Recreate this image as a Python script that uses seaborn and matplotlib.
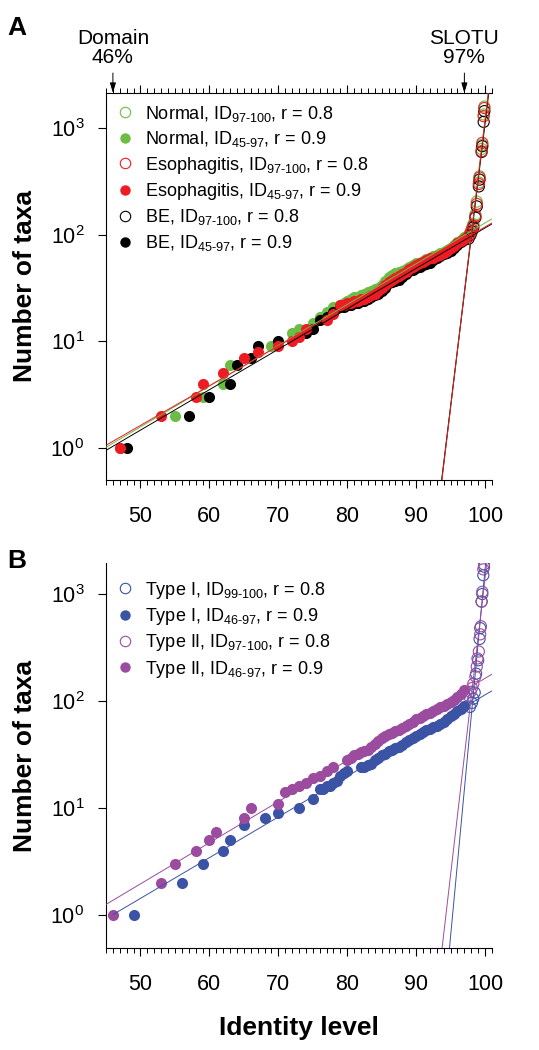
import numpy as np
import pandas as pd
import matplotlib
matplotlib.use("Agg")
import matplotlib.pyplot as plt
import seaborn as sns
from matplotlib.ticker import MultipleLocator, LogLocator, NullLocator, LogFormatterSciNotation
from matplotlib.lines import Line2D

# ---------------- data ----------------
# Panel A
normal_fill_x = [47, 55, 59, 62, 63, 69, 72, 73, 75, 76, 77, 78, 79,
                 79.5, 80, 80.5, 81, 81.5, 82, 82.5, 83, 83.5, 84, 84.5, 85, 85.5, 86, 86.5, 87, 87.5, 88,
                 88.5, 89, 89.5, 90, 90.5, 91, 91.5, 92, 92.5, 93, 93.5, 94, 94.5, 95, 95.5, 96, 96.5, 97]
normal_fill_y = [1, 2, 3, 4, 6, 9, 12, 13, 15, 17, 19, 21, 22,
                 23, 24, 25, 26, 26, 27, 28, 29, 30, 31, 32, 34, 37, 40, 42, 44, 45, 46,
                 48, 50, 52, 54, 55, 57, 59, 61, 63, 65, 67, 69, 72, 76, 80, 85, 90, 95]
normal_open_x = [97.6, 97.9, 98.1, 98.3, 98.6, 98.8, 99.1, 99.2, 99.5, 99.6, 99.8, 99.9]
normal_open_y = [98, 107, 116, 126, 155, 205, 310, 355, 640, 700, 1350, 1600]

esoph_fill_x = [47, 53, 58, 59, 62, 65, 67, 70, 72, 73, 74, 77, 78, 79,
                79.5, 80, 80.5, 81, 81.5, 82, 82.5, 83, 83.5, 84, 84.5, 85, 85.5, 86, 86.5, 87, 87.5, 88,
                88.5, 89, 89.5, 90, 90.5, 91, 91.5, 92, 92.5, 93, 93.5, 94, 94.5, 95, 95.5, 96, 96.5, 97]
esoph_fill_y = [1, 2, 3, 4, 5, 7, 8, 9, 10, 11, 13, 16, 18, 22,
                22, 23, 23, 24, 24, 25, 25, 26, 27, 28, 30, 32, 34, 36, 38, 39, 41, 43,
                45, 48, 50, 52, 54, 56, 58, 60, 61, 63, 65, 67, 71, 75, 79, 83, 87, 92]
esoph_open_x = [97.6, 97.9, 98.1, 98.3, 98.6, 98.8, 99.1, 99.2, 99.5, 99.6, 99.8, 99.9]
esoph_open_y = [96, 104, 112, 122, 150, 195, 300, 345, 610, 730, 1300, 1550]

be_fill_x = [48, 57, 60, 63, 64, 66, 67, 70, 74, 75, 76, 77, 78, 79,
             79.5, 80, 80.5, 81, 81.5, 82, 82.5, 83, 83.5, 84, 84.5, 85, 85.5, 86, 86.5, 87, 87.5, 88,
             88.5, 89, 89.5, 90, 90.5, 91, 91.5, 92, 92.5, 93, 93.5, 94, 94.5, 95, 95.5, 96, 96.5, 97]
be_fill_y = [1, 2, 3, 4, 6, 7, 9, 10, 12, 13, 16, 17, 19, 21,
             21, 22, 22, 23, 23, 24, 24, 25, 26, 27, 28, 30, 32, 35, 36, 37, 38, 40,
             43, 46, 47, 49, 50, 52, 53, 55, 58, 61, 63, 66, 68, 71, 75, 80, 85, 90]
be_open_x = [97.6, 97.9, 98.1, 98.3, 98.6, 98.8, 99.1, 99.2, 99.5, 99.6, 99.8, 99.9]
be_open_y = [92, 100, 108, 118, 145, 185, 285, 330, 600, 680, 1150, 1450]

# Panel B
type1_fill_x = [49, 56, 59, 62, 63, 65, 68, 70, 73, 75, 76, 76.5, 77, 77.5, 78, 78.5, 79, 79.5, 80,
                82, 82.5, 83, 83.5, 84, 84.5, 85, 85.5, 86, 86.5, 87, 87.5, 88, 88.5, 89, 89.5,
                90, 90.5, 91, 91.5, 92, 92.5, 93, 93.5, 94, 94.5, 95, 95.5, 96, 96.5, 97]
type1_fill_y = [1, 2, 3, 4, 5, 7, 8, 9, 10, 12, 15, 15, 16, 16, 17, 18, 20, 21, 22,
                24, 24, 25, 26, 28, 29, 31, 32, 34, 35, 36, 37, 39, 41, 43, 45,
                47, 49, 51, 53, 55, 57, 59, 61, 64, 68, 72, 76, 80, 84, 89]
type1_open_x = [97.8, 98.1, 98.3, 98.5, 98.7, 99.0, 99.2, 99.3, 99.5, 99.6, 99.75, 99.85]
type1_open_y = [88, 96, 105, 120, 180, 240, 380, 480, 850, 1000, 1500, 1800]

type2_fill_x = [46, 53, 55, 58, 60, 61, 65, 66, 70, 71, 72, 73, 74, 75, 76, 77, 78,
                80, 80.5, 81, 81.5, 82, 82.5, 83, 83.5, 84, 84.5, 85, 85.5, 86, 86.5, 87, 87.5, 88, 88.5,
                89, 89.5, 90, 90.5, 91, 91.5, 92, 92.5, 93, 93.5, 94, 94.5, 95, 95.5, 96, 96.5, 97]
type2_fill_y = [1, 2, 3, 4, 5, 6, 8, 10, 11, 14, 15, 16, 17, 19, 20, 22, 24,
                28, 29, 31, 32, 33, 34, 35, 37, 40, 42, 45, 47, 49, 50, 52, 54, 56, 58,
                61, 64, 68, 70, 73, 75, 78, 81, 85, 87, 90, 94, 98, 103, 110, 117, 126]
type2_open_x = [97.6, 97.9, 98.1, 98.3, 98.6, 98.8, 98.9, 99.1, 99.3, 99.4, 99.5, 99.6, 99.75, 99.85]
type2_open_y = [112, 122, 132, 145, 170, 210, 250, 290, 420, 500, 850, 1050, 1700, 1900]

labels_A = [r"Normal, ID$_{\text{97-100}}$, r = 0.8", r"Normal, ID$_{\text{45-97}}$, r = 0.9",
            r"Esophagitis, ID$_{\text{97-100}}$, r = 0.8", r"Esophagitis, ID$_{\text{45-97}}$, r = 0.9",
            r"BE, ID$_{\text{97-100}}$, r = 0.8", r"BE, ID$_{\text{45-97}}$, r = 0.9"]
labels_B = [r"Type I, ID$_{\text{99-100}}$, r = 0.8", r"Type I, ID$_{\text{46-97}}$, r = 0.9",
            r"Type II, ID$_{\text{97-100}}$, r = 0.8", r"Type II, ID$_{\text{46-97}}$, r = 0.9"]
x_ticks = [50, 60, 70, 80, 90, 100]

GREEN = "#6cbd45"
RED = "#ed1c24"
BLACK = "#000000"
BLUE = "#3a53a4"
PURPLE = "#9b4c9f"

# ---------------- style ----------------
sns.set_theme(style="ticks")
plt.rcParams["font.family"] = ["Liberation Sans", "DejaVu Sans"]
plt.rcParams["mathtext.fontset"] = "custom"
plt.rcParams["mathtext.rm"] = "Liberation Sans"
plt.rcParams["mathtext.it"] = "Liberation Sans:italic"
plt.rcParams["mathtext.bf"] = "Liberation Sans:bold"
plt.rcParams["axes.linewidth"] = 0.8
for k in ("text.color", "axes.labelcolor", "xtick.color", "ytick.color", "axes.edgecolor"):
    plt.rcParams[k] = "black"

fig = plt.figure(figsize=(5.39, 10.5), dpi=100)
axA = fig.add_axes([0.1967, 0.5429, 0.716, 0.3686])
axB = fig.add_axes([0.1967, 0.0971, 0.716, 0.3667])

MS = 64


def draw_group(ax, fx, fy, ox, oy, color, fill_range, open_range):
    dff = pd.DataFrame({"x": fx, "y": fy})
    dfo = pd.DataFrame({"x": ox, "y": oy})
    sns.scatterplot(data=dff, x="x", y="y", ax=ax, color=color, s=MS, linewidth=0, zorder=3)
    sns.scatterplot(data=dfo, x="x", y="y", ax=ax, facecolors="none", edgecolors=color,
                    s=MS, linewidth=0.8, zorder=3)
    # log-linear fits
    pf = np.polyfit(dff["x"], np.log10(dff["y"]), 1)
    gx = np.linspace(fill_range[0], fill_range[1], 50)
    sns.lineplot(x=gx, y=10 ** np.polyval(pf, gx), ax=ax, color=color, lw=0.7, zorder=4)
    po = np.polyfit(dfo["x"], np.log10(dfo["y"]), 1)
    gx2 = np.linspace(open_range[0], open_range[1], 50)
    sns.lineplot(x=gx2, y=10 ** np.polyval(po, gx2), ax=ax, color=color, lw=0.7, zorder=4)


draw_group(axA, normal_fill_x, normal_fill_y, normal_open_x, normal_open_y, GREEN, (45, 101), (90, 101))
draw_group(axA, be_fill_x, be_fill_y, be_open_x, be_open_y, BLACK, (45, 101), (90, 101))
draw_group(axA, esoph_fill_x, esoph_fill_y, esoph_open_x, esoph_open_y, RED, (45, 101), (90, 101))

draw_group(axB, type1_fill_x, type1_fill_y, type1_open_x, type1_open_y, BLUE, (46, 101), (90, 101))
draw_group(axB, type2_fill_x, type2_fill_y, type2_open_x, type2_open_y, PURPLE, (45, 101), (90, 101))

TICK_FS = 15.5
for ax, ylim in ((axA, (0.5, 2150)), (axB, (0.49, 1950))):
    ax.set_yscale("log")
    ax.set_xlim(45, 101)
    ax.set_ylim(*ylim)
    ax.xaxis.set_major_locator(MultipleLocator(10))
    ax.xaxis.set_minor_locator(MultipleLocator(1))
    ax.set_xticks(x_ticks)
    ax.yaxis.set_major_locator(LogLocator(base=10, numticks=10))
    ax.yaxis.set_minor_locator(NullLocator())
    ax.yaxis.set_major_formatter(LogFormatterSciNotation())
    ax.tick_params(axis="x", which="major", direction="out", length=6, width=0.8, pad=13,
                   labelsize=TICK_FS, colors="black")
    ax.tick_params(axis="x", which="minor", direction="out", length=3.5, width=0.7)
    ax.tick_params(axis="y", which="major", direction="out", length=5.5, width=0.8, pad=10,
                   labelsize=TICK_FS, colors="black")
    ax.spines["right"].set_visible(False)
    for s in ax.spines.values():
        s.set_color("black")
    ax.set_ylabel("Number of taxa", fontsize=19, fontweight="bold")
    ax.yaxis.set_label_coords(-0.178, 0.5)
    ax.set_xlabel("")

axA.tick_params(axis="x", which="both", top=True)
axB.spines["top"].set_visible(False)
axB.set_xlabel("Identity level", fontsize=19, fontweight="bold")
axB.xaxis.set_label_coords(0.5, -0.177)

# Legends
def handles(colors):
    hs = []
    for c in colors:
        hs.append(Line2D([], [], marker="o", linestyle="none", markersize=7.5,
                         markerfacecolor="none", markeredgecolor=c, markeredgewidth=0.8))
        hs.append(Line2D([], [], marker="o", linestyle="none", markersize=7.5,
                         markerfacecolor=c, markeredgewidth=0))
    return hs

legA = axA.legend(handles([GREEN, RED, BLACK]), labels_A, loc="upper left",
                  bbox_to_anchor=(0.026, 0.972), frameon=False, fontsize=13,
                  handlelength=1.0, handletextpad=0.6, borderpad=0, borderaxespad=0,
                  labelspacing=0.3)
legB = axB.legend(handles([BLUE, PURPLE]), labels_B, loc="upper left",
                  bbox_to_anchor=(0.026, 0.957), frameon=False, fontsize=13,
                  handlelength=1.0, handletextpad=0.6, borderpad=0, borderaxespad=0,
                  labelspacing=0.3)

# Annotations on top axis
for xv, txt in ((46, "Domain\n46%"), (97, "SLOTU\n97%")):
    axA.annotate(txt, xy=(xv, 1.0), xycoords=("data", "axes fraction"),
                 xytext=(xv, 1.067), textcoords=("data", "axes fraction"),
                 ha="center", va="bottom", fontsize=15, linespacing=1.0,
                 arrowprops=dict(arrowstyle="-|>,head_length=0.4,head_width=0.12",
                                 color="black", lw=0.7, shrinkA=2, shrinkB=0))

fig.text(7 / 539, 1 - 35 / 1050, "A", fontsize=19, fontweight="bold", va="baseline")
fig.text(7 / 539, 1 - 568 / 1050, "B", fontsize=19, fontweight="bold", va="baseline")

fig.savefig("out.png", dpi=100)
